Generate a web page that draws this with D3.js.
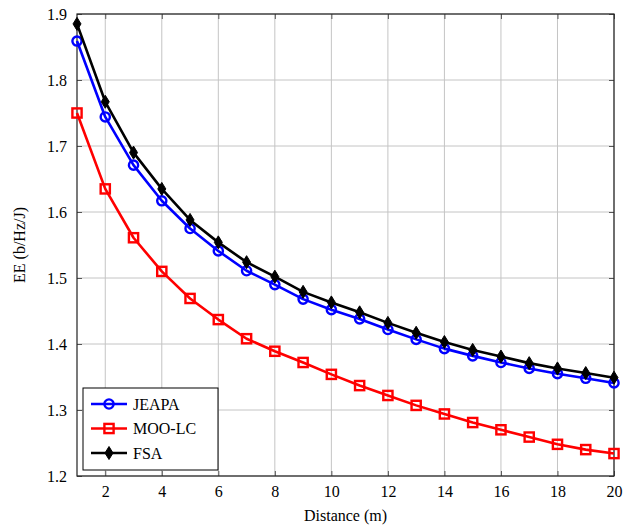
<!DOCTYPE html>
<html>
<head>
<meta charset="utf-8">
<script src="https://cdn.jsdelivr.net/npm/d3@7"></script>
<style>
  body { margin: 0; background: #fff; }
  text { font-family: "Liberation Serif", "DejaVu Serif", serif; fill: #000; }
</style>
</head>
<body>
<svg id="chart" width="636" height="527"></svg>
<script>
// distance in metres
var distance = d3.range(1, 21);
var jeapa = [1.859, 1.744, 1.671, 1.617, 1.575, 1.541, 1.511, 1.490, 1.468, 1.452,
             1.438, 1.422, 1.407, 1.393, 1.382, 1.372, 1.363, 1.355, 1.348, 1.341];
var mooLc = [1.750, 1.635, 1.561, 1.510, 1.469, 1.437, 1.408, 1.389, 1.372, 1.354,
             1.337, 1.322, 1.307, 1.294, 1.281, 1.270, 1.259, 1.248, 1.240, 1.234];
var fsa   = [1.885, 1.767, 1.690, 1.635, 1.588, 1.554, 1.524, 1.502, 1.479, 1.463,
             1.448, 1.432, 1.417, 1.403, 1.391, 1.381, 1.371, 1.363, 1.356, 1.349];
var xTicks = [2, 4, 6, 8, 10, 12, 14, 16, 18, 20];
var yTicks = [1.2, 1.3, 1.4, 1.5, 1.6, 1.7, 1.8, 1.9];

var series = [
  {name: "JEAPA", values: jeapa, color: "#0000ff", marker: "circle"},
  {name: "MOO-LC", values: mooLc, color: "#ff0000", marker: "square"},
  {name: "FSA", values: fsa, color: "#000000", marker: "diamond"}
];

var svg = d3.select("#chart");
var pLeft = 77, pRight = 614, pTop = 14, pBottom = 476;

var x = d3.scaleLinear().domain([1, 20]).range([pLeft, pRight]);
var y = d3.scaleLinear().domain([1.2, 1.9]).range([pBottom, pTop]);

// grid
var grid = svg.append("g");
grid.selectAll(".vg").data(xTicks).enter().append("line")
    .attr("x1", d => x(d)).attr("x2", d => x(d))
    .attr("y1", pTop).attr("y2", pBottom)
    .attr("stroke", "#c4c4c4").attr("stroke-width", 1);
grid.selectAll(".hg").data(yTicks).enter().append("line")
    .attr("x1", pLeft).attr("x2", pRight)
    .attr("y1", d => y(d)).attr("y2", d => y(d))
    .attr("stroke", "#c4c4c4").attr("stroke-width", 1);

// axes (ticks inward on all sides)
var tl = 5;
svg.append("g").attr("transform", "translate(0," + pBottom + ")")
    .call(d3.axisBottom(x).tickValues(xTicks).tickSizeInner(-tl).tickSizeOuter(0).tickPadding(10));
svg.append("g").attr("transform", "translate(0," + pTop + ")")
    .call(d3.axisTop(x).tickValues(xTicks).tickSizeInner(-tl).tickSizeOuter(0).tickFormat(""));
svg.append("g").attr("transform", "translate(" + pLeft + ",0)")
    .call(d3.axisLeft(y).tickValues(yTicks).tickSizeInner(-tl).tickSizeOuter(0).tickPadding(10).tickFormat(d3.format(".1f")));
svg.append("g").attr("transform", "translate(" + pRight + ",0)")
    .call(d3.axisRight(y).tickValues(yTicks).tickSizeInner(-tl).tickSizeOuter(0).tickFormat(""));

svg.selectAll(".domain").remove();
svg.selectAll(".tick line").attr("stroke", "#555").attr("stroke-width", 1);
svg.selectAll(".tick text").style("font-family", "'Liberation Serif', serif").style("font-size", "16px").attr("fill", "#000");

svg.append("rect")
    .attr("x", pLeft).attr("y", pTop)
    .attr("width", pRight - pLeft).attr("height", pBottom - pTop)
    .attr("fill", "none").attr("stroke", "#222").attr("stroke-width", 1.2);

// marker drawer
function drawMarker(g, kind, color) {
  if (kind === "circle") {
    g.append("circle").attr("r", 4.6).attr("fill", "none")
      .attr("stroke", color).attr("stroke-width", 2.4);
  } else if (kind === "square") {
    g.append("rect").attr("x", -4.6).attr("y", -4.6).attr("width", 9.2).attr("height", 9.2)
      .attr("fill", "none").attr("stroke", color).attr("stroke-width", 2.4);
  } else {
    g.append("path").attr("d", "M0,-6.5L4,0L0,6.5L-4,0Z")
      .attr("fill", color).attr("stroke", color).attr("stroke-width", 1);
  }
}

var line = d3.line().x((d, i) => x(distance[i])).y(d => y(d));

series.forEach(function(s) {
  svg.append("path")
      .attr("d", line(s.values))
      .attr("fill", "none")
      .attr("stroke", s.color)
      .attr("stroke-width", 2.6)
      .attr("stroke-linejoin", "round");
  s.values.forEach(function(v, i) {
    var g = svg.append("g").attr("transform", "translate(" + x(distance[i]) + "," + y(v) + ")");
    drawMarker(g, s.marker, s.color);
  });
});

// legend
var lg = svg.append("g");
lg.append("rect").attr("x", 83).attr("y", 388).attr("width", 135).attr("height", 82)
    .attr("fill", "#fff").attr("stroke", "#000").attr("stroke-width", 1);
series.forEach(function(s, i) {
  var yy = 404 + i * 24.5;
  lg.append("line").attr("x1", 91).attr("x2", 127).attr("y1", yy).attr("y2", yy)
      .attr("stroke", s.color).attr("stroke-width", 2.6);
  var g = lg.append("g").attr("transform", "translate(109," + yy + ")");
  drawMarker(g, s.marker, s.color);
  lg.append("text").attr("x", 133).attr("y", yy).attr("dy", "0.35em")
      .style("font-size", "16px").text(s.name);
});

// axis labels
svg.append("text").attr("x", (pLeft + pRight) / 2).attr("y", 521)
    .attr("text-anchor", "middle").style("font-size", "16px").text("Distance (m)");
svg.append("text").attr("transform", "translate(25," + (pTop + pBottom) / 2 + ") rotate(-90)")
    .attr("text-anchor", "middle").style("font-size", "16px").text("EE (b/Hz/J)");
</script>
</body>
</html>
